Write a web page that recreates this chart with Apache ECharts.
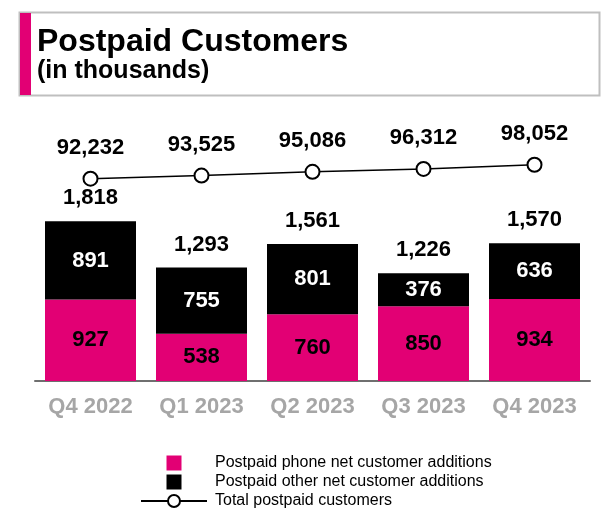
<!DOCTYPE html>
<html>
<head>
<meta charset="utf-8">
<script src="https://cdn.jsdelivr.net/npm/echarts@6/dist/echarts.min.js"></script>
<style>
  html, body { margin: 0; padding: 0; background: #fff; }
  #chart { width: 610px; height: 525px; }
</style>
</head>
<body>
<div id="chart"></div>
<script>
// 数据
var quarters = ['Q4 2022', 'Q1 2023', 'Q2 2023', 'Q3 2023', 'Q4 2023']
var phoneAdds = [927, 538, 760, 850, 934]
var otherAdds = [891, 755, 801, 376, 636]
var totalCustomers = [92232, 93525, 95086, 96312, 98052]

var magenta = '#e20074'
var font = 'Liberation Sans, Arial, sans-serif'

function fmt(v) {
  return Number(v).toLocaleString('en-US')
}

var chart = echarts.init(document.getElementById('chart'))
var option = {
  animation: false,
  textStyle: { fontFamily: font },
  graphic: [
    {
      type: 'rect',
      shape: { x: 19.5, y: 12.5, width: 580, height: 83 },
      style: { fill: 'none', stroke: '#bfbfbf', lineWidth: 2 }
    },
    {
      type: 'rect',
      shape: { x: 20, y: 13, width: 11, height: 82 },
      style: { fill: magenta }
    }
  ],
  title: {
    text: 'Postpaid Customers',
    subtext: '(in thousands)',
    left: 32,
    top: 21,
    itemGap: 1,
    textStyle: { fontSize: 32, fontWeight: 'bold', color: '#000', fontFamily: font },
    subtextStyle: { fontSize: 25, fontWeight: 'bold', color: '#000', fontFamily: font }
  },
  legend: {
    orient: 'vertical',
    left: 135,
    top: 450,
    itemWidth: 66,
    itemHeight: 15,
    itemGap: 3,
    textStyle: { fontSize: 16, color: '#000', fontFamily: font, padding: [0, 0, 0, 3] },
    data: [
      { name: 'Postpaid phone net customer additions', icon: 'path://M0,0H10V10H0Z' },
      { name: 'Postpaid other net customer additions', icon: 'path://M0,0H10V10H0Z' },
      { name: 'Total postpaid customers' }
    ]
  },
  grid: { left: 35, right: 20, top: 100, bottom: 144 },
  xAxis: {
    type: 'category',
    data: quarters,
    axisTick: { show: false },
    axisLine: { lineStyle: { color: '#6f6f6f', width: 2 } },
    axisLabel: { color: '#a6a6a6', fontSize: 22, fontWeight: 'bold', margin: 15 }
  },
  yAxis: [
    { type: 'value', min: 0, max: 3200, show: false },
    { type: 'value', min: 8000, max: 125000, show: false }
  ],
  series: [
    {
      name: 'Postpaid phone net customer additions',
      type: 'bar',
      stack: 'adds',
      barWidth: 91,
      data: phoneAdds,
      itemStyle: { color: magenta },
      label: {
        show: true,
        position: 'inside',
        color: '#000',
        fontSize: 22,
        fontWeight: 'bold'
      }
    },
    {
      name: 'Postpaid other net customer additions',
      type: 'bar',
      stack: 'adds',
      barWidth: 91,
      data: otherAdds,
      itemStyle: { color: '#000' },
      label: {
        show: true,
        position: 'inside',
        color: '#fff',
        fontSize: 22,
        fontWeight: 'bold'
      }
    },
    {
      // 堆叠总数标签
      name: 'stackTotal',
      type: 'bar',
      stack: 'adds',
      barWidth: 91,
      data: quarters.map(function () { return 0 }),
      itemStyle: { color: 'transparent' },
      label: {
        show: true,
        position: 'top',
        distance: 12,
        color: '#000',
        fontSize: 22,
        fontWeight: 'bold',
        formatter: function (p) {
          return fmt(phoneAdds[p.dataIndex] + otherAdds[p.dataIndex])
        }
      }
    },
    {
      name: 'Total postpaid customers',
      type: 'line',
      yAxisIndex: 1,
      data: totalCustomers,
      symbol: 'emptyCircle',
      symbolSize: 14,
      lineStyle: { color: '#000', width: 1.5 },
      itemStyle: { color: '#000', borderWidth: 1.5 },
      label: {
        show: true,
        position: 'top',
        distance: 12,
        color: '#000',
        fontSize: 22,
        fontWeight: 'bold',
        formatter: function (p) { return fmt(p.value) }
      }
    }
  ]
}
chart.setOption(option)
</script>
</body>
</html>
